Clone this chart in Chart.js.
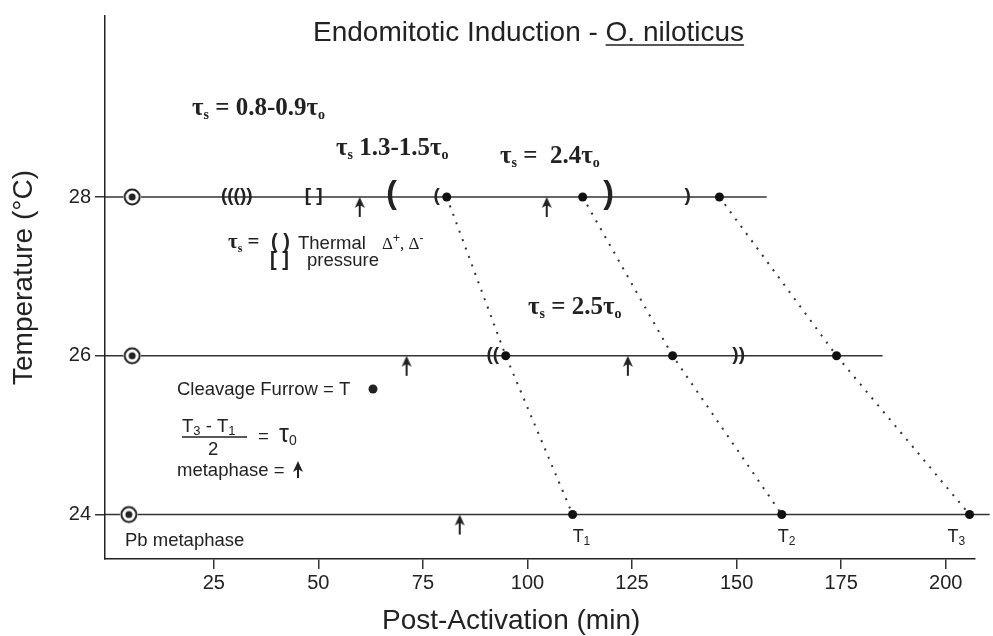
<!DOCTYPE html>
<html>
<head>
<meta charset="utf-8">
<script src="https://cdn.jsdelivr.net/npm/chart.js@4"></script>
<style>
  html, body { margin: 0; padding: 0; background: #fff; }
</style>
</head>
<body>
<canvas id="chart" width="993" height="636"></canvas>
<script>
// ---- data (x = minutes post-activation, y = temperature) ----
const temperatures = [28, 26, 24];
const lineEnds = [157.2, 184.9, 210.5];
const pbMetaphase = [5.5, 5.5, 4.7];
const cleavageT1 = [80.7, 94.8, 110.8];
const cleavageT2 = [113.2, 134.7, 160.8];
const cleavageT3 = [145.9, 173.9, 205.7];
const metaphase28 = [59.9, 104.6];
const metaphase26 = [71.1, 124.0];
const metaphase24 = [83.8];
const brackets28 = [[30.5, '((())'], [48.9, '[ ]'], [78.3, '('], [138.3, ')']];
const tallBrackets28 = [[67.5, '('], [119.4, ')']];
const brackets26 = [[91.7, '(('], [150.5, '))']];
const xTicks = [25, 50, 75, 100, 125, 150, 175, 200];
const yTicks = [24, 26, 28];

const INK = '#222';
const SANS = '"Liberation Sans", Arial, sans-serif';
const SERIF = '"Liberation Serif", "Times New Roman", serif';

// point style images
function makeTarget() {
  const c = document.createElement('canvas');
  c.width = 20; c.height = 20;
  const g = c.getContext('2d');
  g.fillStyle = '#fff';
  g.beginPath(); g.arc(10, 10, 9, 0, Math.PI * 2); g.fill();
  g.strokeStyle = INK; g.lineWidth = 2;
  g.beginPath(); g.arc(10, 10, 7.5, 0, Math.PI * 2); g.stroke();
  g.fillStyle = INK;
  g.beginPath(); g.arc(10, 10, 3.5, 0, Math.PI * 2); g.fill();
  return c;
}

function drawArrow(g, x, tipY, len) {
  g.fillStyle = INK; g.strokeStyle = INK; g.lineWidth = 2;
  g.beginPath();
  g.moveTo(x, tipY);
  g.lineTo(x - 5, tipY + 11);
  g.lineTo(x, tipY + 8);
  g.lineTo(x + 5, tipY + 11);
  g.closePath();
  g.fill();
  g.beginPath();
  g.moveTo(x, tipY + 6);
  g.lineTo(x, tipY + len);
  g.stroke();
}

function makeArrow() {
  const c = document.createElement('canvas');
  c.width = 14; c.height = 44;
  drawArrow(c.getContext('2d'), 7, 22, 20);
  return c;
}

const targetImg = makeTarget();
const arrowImg = makeArrow();

function rows(xs, temps) {
  return xs.map((x, i) => ({ x: x, y: temps[i] }));
}

const datasets = [];

// horizontal temperature lines
temperatures.forEach((t, i) => {
  datasets.push({
    data: [{ x: -1, y: t }, { x: lineEnds[i], y: t }],
    borderColor: '#333',
    borderWidth: 1.5,
    pointRadius: 0,
    clip: false,
    order: 5
  });
});

// cleavage furrows T1..T3 joined by dotted lines
[cleavageT1, cleavageT2, cleavageT3].forEach((arr) => {
  datasets.push({
    data: rows(arr, temperatures),
    borderColor: '#333',
    borderWidth: 2,
    borderDash: [2, 7],
    pointRadius: 4.5,
    pointBackgroundColor: '#111',
    pointBorderWidth: 0,
    clip: false,
    order: 3
  });
});

// Pb metaphase targets
datasets.push({
  data: rows(pbMetaphase, temperatures),
  showLine: false,
  pointStyle: targetImg,
  order: 1
});

// metaphase arrows
datasets.push({
  data: metaphase28.map(x => ({ x: x, y: 28 }))
    .concat(metaphase26.map(x => ({ x: x, y: 26 })))
    .concat(metaphase24.map(x => ({ x: x, y: 24 }))),
  showLine: false,
  pointStyle: arrowImg,
  order: 1
});

// text helper with sub/superscripts
function rich(ctx, x, y, parts) {
  parts.forEach(p => {
    ctx.font = p.f;
    ctx.fillText(p.t, x, y + (p.dy || 0));
    x += ctx.measureText(p.t).width;
  });
  return x;
}

const BIG = 'bold 25px ' + SERIF;
const SUB = 'bold 14px ' + SERIF;
function tauLine(rest) {
  return [
    { t: 'τ', f: BIG }, { t: 's', f: SUB, dy: 4 },
    { t: rest, f: BIG },
    { t: 'τ', f: BIG }, { t: 'o', f: SUB, dy: 4 }
  ];
}

const annotations = {
  id: 'annotations',
  afterDraw(chart) {
    const ctx = chart.ctx;
    const xs = chart.scales.x, ys = chart.scales.y;
    ctx.save();
    ctx.fillStyle = INK;
    ctx.strokeStyle = INK;

    // brackets on the temperature lines
    ctx.textAlign = 'center';
    ctx.textBaseline = 'middle';
    ctx.font = 'bold 19px ' + SANS;
    brackets28.forEach(b => ctx.fillText(b[1], xs.getPixelForValue(b[0]), ys.getPixelForValue(28) - 1));
    brackets26.forEach(b => ctx.fillText(b[1], xs.getPixelForValue(b[0]), ys.getPixelForValue(26) - 1));
    ctx.font = 'bold 32px ' + SANS;
    tallBrackets28.forEach(b => ctx.fillText(b[1], xs.getPixelForValue(b[0]), ys.getPixelForValue(28) - 3));

    ctx.textAlign = 'left';
    ctx.textBaseline = 'alphabetic';

    // title
    ctx.font = '28px ' + SANS;
    const tx = 313;
    const part1 = 'Endomitotic Induction - ';
    ctx.fillText(part1, tx, 41);
    const ux = tx + ctx.measureText(part1).width;
    ctx.fillText('O. niloticus', ux, 41);
    const uw = ctx.measureText('O. niloticus').width;
    ctx.lineWidth = 1.5;
    ctx.beginPath(); ctx.moveTo(ux, 45); ctx.lineTo(ux + uw, 45); ctx.stroke();

    // axis titles
    ctx.font = '28px ' + SANS;
    ctx.fillText('Post-Activation (min)', 382, 629);
    ctx.save();
    ctx.translate(32, 385);
    ctx.rotate(-Math.PI / 2);
    ctx.fillText('Temperature (°C)', 0, 0);
    ctx.restore();

    // tau ratios
    rich(ctx, 192, 115, tauLine(' = 0.8-0.9'));
    rich(ctx, 336, 155, tauLine(' 1.3-1.5'));
    rich(ctx, 500, 163, tauLine(' =  2.4'));
    rich(ctx, 528, 314, tauLine(' = 2.5'));

    // key: thermal / pressure
    rich(ctx, 228, 248, [{ t: 'τ', f: 'bold 21px ' + SERIF }, { t: 's', f: 'bold 12px ' + SERIF, dy: 4 }, { t: ' =', f: 'bold 21px ' + SERIF }]);
    ctx.font = 'bold 20px ' + SANS;
    ctx.fillText('( )', 271, 248);
    ctx.fillText('[ ]', 270, 266);
    ctx.font = '18.5px ' + SANS;
    ctx.fillText('Thermal', 298, 249);
    ctx.fillText('pressure', 307, 266);
    rich(ctx, 382, 249, [
      { t: 'Δ', f: '17px ' + SERIF }, { t: '+', f: '12px ' + SANS, dy: -7 },
      { t: ', Δ', f: '17px ' + SERIF }, { t: '-', f: '13px ' + SANS, dy: -7 }
    ]);

    // key: cleavage furrow, tau0, metaphase
    ctx.font = '18.5px ' + SANS;
    ctx.fillText('Cleavage Furrow = T', 177, 395);
    ctx.beginPath(); ctx.arc(373, 389, 4.5, 0, Math.PI * 2); ctx.fill();
    rich(ctx, 182, 432, [
      { t: 'T', f: '18.5px ' + SANS }, { t: '3', f: '13px ' + SANS, dy: 3 },
      { t: ' - T', f: '18.5px ' + SANS }, { t: '1', f: '13px ' + SANS, dy: 3 }
    ]);
    ctx.lineWidth = 1.5;
    ctx.beginPath(); ctx.moveTo(182, 437); ctx.lineTo(247, 437); ctx.stroke();
    ctx.font = '18.5px ' + SANS;
    ctx.fillText('2', 208, 455);
    rich(ctx, 258, 442, [
      { t: '=  ', f: '18.5px ' + SANS }, { t: 'τ', f: '25px ' + SANS }, { t: '0', f: '14px ' + SANS, dy: 3 }
    ]);
    ctx.font = '18.5px ' + SANS;
    ctx.fillText('metaphase =', 177, 476);
    drawArrow(ctx, 298, 461, 17);
    ctx.font = '18.5px ' + SANS;
    ctx.fillText('Pb metaphase', 125, 546);

    // T1, T2, T3 labels under the 24 degree row
    const tLabels = [[cleavageT1[2], '1', 0], [cleavageT2[2], '2', -4], [cleavageT3[2], '3', -22]];
    tLabels.forEach(l => {
      rich(ctx, xs.getPixelForValue(l[0]) + l[2], 542, [
        { t: 'T', f: '18px ' + SANS }, { t: l[1], f: '12px ' + SANS, dy: 3 }
      ]);
    });

    ctx.restore();
  }
};

new Chart(document.getElementById('chart'), {
  type: 'line',
  data: { datasets: datasets },
  options: {
    responsive: false,
    devicePixelRatio: 1,
    animation: false,
    layout: { padding: { top: 10, right: 18, left: 0, bottom: 0 } },
    plugins: { legend: { display: false }, tooltip: { enabled: false } },
    scales: {
      x: {
        type: 'linear',
        min: -1,
        max: 207,
        afterBuildTicks: s => { s.ticks = xTicks.map(v => ({ value: v })); },
        afterFit: s => { s.height = 77; },
        grid: { drawOnChartArea: false, tickLength: 10, color: '#333', lineWidth: 1.5 },
        border: { display: true, color: INK, width: 1.5 },
        ticks: { font: { family: SANS, size: 20 }, color: INK, padding: 2, maxRotation: 0, autoSkip: false }
      },
      y: {
        type: 'linear',
        min: 23.44,
        max: 30.28,
        afterBuildTicks: s => { s.ticks = yTicks.map(v => ({ value: v })); },
        afterFit: s => { s.width = 105; },
        grid: { drawOnChartArea: false, tickLength: 10, color: '#333', lineWidth: 1.5 },
        border: { display: true, color: INK, width: 1.5 },
        ticks: { font: { family: SANS, size: 20 }, color: INK, padding: 4 }
      }
    }
  },
  plugins: [annotations]
});
</script>
</body>
</html>
